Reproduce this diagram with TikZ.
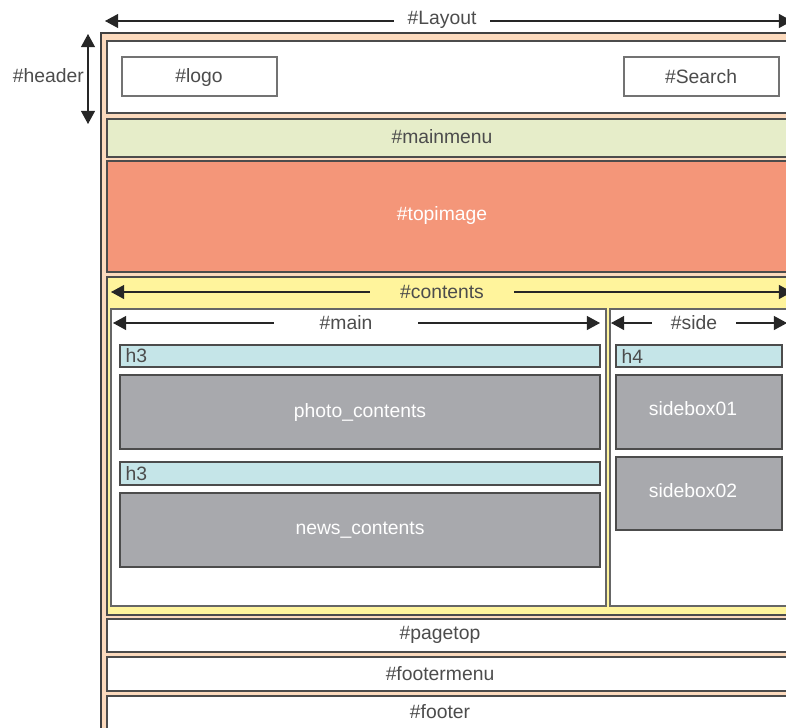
\documentclass[tikz,border=0pt]{standalone}
\usepackage{fontspec}
\setmainfont{Liberation Sans}
\usetikzlibrary{arrows.meta, fit}

\definecolor{layoutpeach}{HTML}{FCDABD}
\definecolor{menugreen}{HTML}{E6EDC9}
\definecolor{imgsalmon}{HTML}{F49679}
\definecolor{contyellow}{HTML}{FFF49C}
\definecolor{headcyan}{HTML}{C5E5E8}
\definecolor{blockgray}{HTML}{A8A9AD}

\begin{document}
\begin{tikzpicture}[
    x=0.02cm, y=-0.02cm,
    every node/.style={font=\fontsize{11}{13}\selectfont, text=black!70},
    box/.style={rectangle, draw=black!70, line width=0.6pt, inner sep=0pt},
    layoutbox/.style={box, fill=layoutpeach, draw=black!75, line width=1pt},
    wbox/.style={box, fill=white},
    itembox/.style={box, fill=white, draw=black!55},
    menubox/.style={box, fill=menugreen},
    imgbox/.style={box, fill=imgsalmon},
    contbox/.style={box, fill=contyellow},
    headbar/.style={box, fill=headcyan},
    graybox/.style={box, fill=blockgray},
    caption/.style={inner ysep=1pt},
    dim/.style={{Triangle[length=7.5pt,width=8pt]}-{Triangle[length=7.5pt,width=8pt]}, line width=0.6pt, black!85}
]
    \useasboundingbox (0,0) rectangle (786,727);
    \clip (0,0) rectangle (786,727);

    % whole page
    \node[layoutbox, fit={(101,33) (800,745)}] (layout) {};

    % header area
    \node[wbox, fit={(107,41) (800,113)}] (header) {};
    \node[itembox, fit={(122,57) (277,96)}] (logo) {};
    \node (logo-txt) at (199,77) {\#logo};
    \node[itembox, fit={(624,57) (779,96)}] (search) {};
    \node (search-txt) at (701,77) {\#Search};

    \node[menubox, fit={(107,119) (800,157)}] (mainmenu) {};
    \node (mainmenu-txt) at (442,137) {\#mainmenu};

    \node[imgbox, fit={(107,161) (800,272)}] (topimage) {};
    \node[text=white] (topimage-txt) at (442,215) {\#topimage};

    % contents with main and side columns
    \node[contbox, fit={(107,277) (800,615)}] (contents) {};
    \node[wbox, draw=black!60, fit={(111,309) (606,606)}] (main) {};
    \node[wbox, draw=black!60, fit={(610,309) (790,606)}] (side) {};

    \node[headbar, fit={(120,345) (600,367)}, label={[name=h3a-txt, anchor=west]west:h3}] (h3a) {};
    \node[graybox, fit={(120,375) (600,449)}, label={[name=photo-txt, text=white]center:photo\_contents}] (photo) {};
    \node[headbar, fit={(120,462) (600,485)}, label={[name=h3b-txt, anchor=west]west:h3}] (h3b) {};
    \node[graybox, fit={(120,493) (600,567)}, label={[name=news-txt, text=white]center:news\_contents}] (news) {};

    \node[headbar, fit={(616,345) (782,367)}, label={[name=h4-txt, anchor=west]west:h4}] (h4) {};
    \node[graybox, fit={(616,375) (782,449)}] (sidebox1) {};
    \node[text=white] (sidebox1-txt) at (693,409) {sidebox01};
    \node[graybox, fit={(616,457) (782,530)}] (sidebox2) {};
    \node[text=white] (sidebox2-txt) at (693,491) {sidebox02};

    % bottom rows
    \node[wbox, fit={(107,619) (800,652)}] (pagetop) {};
    \node (pagetop-txt) at (440,635) {\#pagetop};
    \node[wbox, fit={(107,657) (800,691)}] (footermenu) {};
    \node (footermenu-txt) at (440,674) {\#footermenu};
    \node[wbox, fit={(107,696) (800,745)}] (footer) {};
    \node (footer-txt) at (440,712) {\#footer};

    % dimension arrows
    \coordinate (lay-l) at (105,21);
    \coordinate (lay-r) at (792,21);
    \draw[dim] (lay-l) -- (lay-r);
    \node[caption, fill=white, inner xsep=8pt] (lay-txt) at (442,20) {\#Layout};

    \coordinate (hd-t) at (88,34);
    \coordinate (hd-b) at (88,124);
    \draw[dim] (hd-t) -- (hd-b);
    \node[anchor=east, inner xsep=1pt] (hd-txt) at (86,76) {\#header};

    \coordinate (ct-l) at (111,292);
    \coordinate (ct-r) at (792,292);
    \draw[dim] (ct-l) -- (ct-r);
    \node[caption, fill=contyellow, inner xsep=17pt] (ct-txt) at (442,292) {\#contents};

    \coordinate (mn-l) at (113,323);
    \coordinate (mn-r) at (600,323);
    \draw[dim] (mn-l) -- (mn-r);
    \node[caption, fill=white, inner xsep=26pt] (mn-txt) at (346,323) {\#main};

    \coordinate (sd-l) at (611,323);
    \coordinate (sd-r) at (787,323);
    \draw[dim] (sd-l) -- (sd-r);
    \node[caption, fill=white, inner xsep=11pt] (sd-txt) at (694,323) {\#side};
\end{tikzpicture}
\end{document}
